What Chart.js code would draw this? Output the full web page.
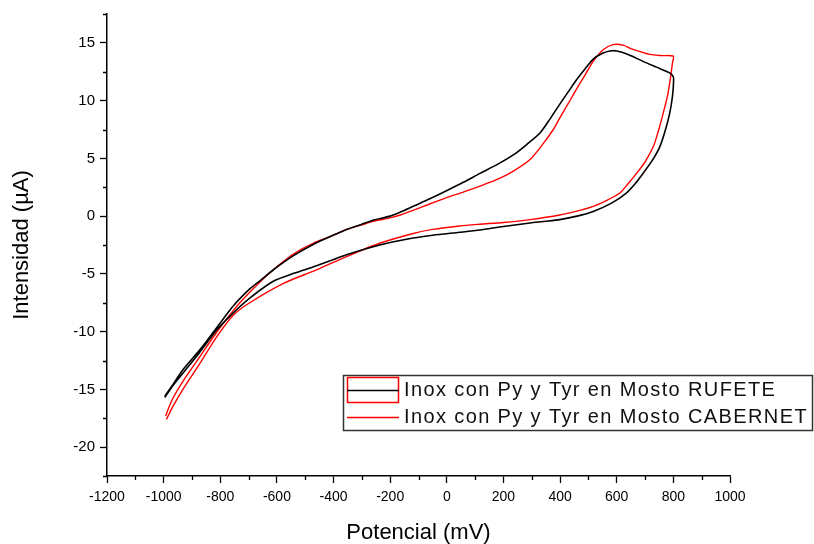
<!DOCTYPE html>
<html>
<head>
<meta charset="utf-8">
<script src="https://cdn.jsdelivr.net/npm/chart.js@4.4.1/dist/chart.umd.min.js"></script>
<style>
  html, body { margin: 0; padding: 0; background: #fff; }
  #wrap { width: 814px; height: 544px; }
</style>
</head>
<body>
<div id="wrap"><canvas id="cv" width="814" height="544"></canvas></div>
<script>
// Axis tick labels
const potencialTicks = [-1200, -1000, -800, -600, -400, -200, 0, 200, 400, 600, 800, 1000];
const intensidadTicks = [-20, -15, -10, -5, 0, 5, 10, 15];

// Series labels
const serieNombres = ['Inox con Py y Tyr en Mosto RUFETE', 'Inox con Py y Tyr en Mosto CABERNET'];

// RUFETE voltammogram: anodic sweep (-1000 -> 800 mV) then cathodic return
const rufetePotencial = [
  -996, -965, -932, -873, -814, -755, -696, -660, -610, -540, -472, -410, -354, -300, -260, -200, -164, -119, -60, -1,
  60, 117, 180, 235, 282, 329, 364, 399, 430, 458, 490, 517, 550, 576, 600, 640, 693, 740, 787, 799,
  801, 797, 787, 770, 752, 725, 693, 665, 634, 580, 517, 460, 399, 350, 294, 200, 117, 45, -50, -119,
  -237, -354, -460, -540, -610, -696, -755, -814, -873, -932, -965, -996
];
const rufeteIntensidad = [
  -15.6, -14.5, -13.3, -11.6, -9.7, -7.8, -6.3, -5.6, -4.6, -3.4, -2.45, -1.75, -1.15, -0.7, -0.35, 0.0, 0.35, 0.85, 1.5, 2.2,
  2.95, 3.7, 4.5, 5.3, 6.2, 7.2, 8.4, 9.7, 10.8, 11.8, 12.8, 13.6, 14.1, 14.3, 14.3, 14.0, 13.4, 12.9, 12.4, 12.1,
  11.8, 10.4, 8.9, 7.3, 6.0, 4.8, 3.7, 2.8, 2.0, 1.1, 0.4, 0.0, -0.3, -0.45, -0.6, -0.9, -1.2, -1.4, -1.65, -1.9,
  -2.5, -3.35, -4.3, -4.95, -5.6, -7.1, -8.4, -9.9, -11.8, -13.6, -14.6, -15.7
];

// CABERNET voltammogram: anodic sweep then cathodic return
const cabernetPotencial = [
  -993, -970, -932, -873, -814, -755, -696, -625, -560, -508, -472, -410, -354, -300, -260, -200, -164, -119, -60, -1,
  60, 117, 180, 235, 294, 341, 376, 399, 430, 458, 490, 517, 552, 587, 623, 650, 717, 760, 800,
  797, 790, 780, 764, 745, 729, 700, 670, 640, 611, 560, 517, 470, 399, 294, 200, 117, 45, -50, -119,
  -237, -354, -460, -575, -696, -755, -814, -873, -932, -970, -990
];
const cabernetIntensidad = [
  -17.3, -15.9, -14.3, -12.2, -10.1, -8.2, -6.6, -4.9, -3.6, -2.8, -2.35, -1.75, -1.15, -0.75, -0.45, -0.15, 0.1, 0.5, 1.05, 1.6,
  2.1, 2.6, 3.2, 3.9, 4.9, 6.3, 7.5, 8.5, 9.8, 11.0, 12.3, 13.4, 14.4, 14.85, 14.8, 14.5, 14.0, 13.9, 13.85,
  13.3, 12.0, 10.5, 8.9, 7.2, 6.0, 4.7, 3.7, 2.8, 2.0, 1.3, 0.84, 0.5, 0.1, -0.3, -0.55, -0.7, -0.85, -1.15, -1.5,
  -2.35, -3.5, -4.65, -5.8, -7.5, -8.6, -10.5, -12.8, -15.0, -16.6, -17.6
];

const toPoints = (xs, ys) => xs.map((x, i) => ({ x: x, y: ys[i] }));

const FONT = '"Liberation Sans", Arial, sans-serif';

// Short minor ticks halfway between the labelled ticks
function minorValues(major) {
  const step = major[1] - major[0];
  const out = [];
  for (let i = 0; i < major.length - 1; i++) out.push((major[i] + major[i + 1]) / 2);
  out.unshift(major[0] - step / 2);
  out.push(major[major.length - 1] + step / 2);
  return out;
}

const minorTicksPlugin = {
  id: 'minorTicks',
  afterDraw(chart) {
    const ctx = chart.ctx;
    const xs = chart.scales.x, ys = chart.scales.y;
    ctx.save();
    ctx.strokeStyle = '#000';
    ctx.lineWidth = 1.3;
    ctx.beginPath();
    minorValues(potencialTicks).forEach(v => {
      if (v < xs.min || v > xs.max) return;
      const px = Math.round(xs.getPixelForValue(v)) + 0.5;
      ctx.moveTo(px, xs.top);
      ctx.lineTo(px, xs.top + 4);
    });
    minorValues(intensidadTicks).forEach(v => {
      if (v < ys.min || v > ys.max) return;
      const py = Math.round(ys.getPixelForValue(v)) + 0.5;
      ctx.moveTo(ys.right, py);
      ctx.lineTo(ys.right - 4, py);
    });
    ctx.stroke();
    ctx.restore();
  }
};

// Boxed legend inside the plot, lower right
const boxLegendPlugin = {
  id: 'boxLegend',
  afterDraw(chart) {
    const ctx = chart.ctx;
    const ds = chart.data.datasets;
    ctx.save();
    const bx = 343.5, by = 375.5, bw = 469, bh = 55;
    ctx.fillStyle = '#fff';
    ctx.fillRect(bx, by, bw, bh);
    ctx.strokeStyle = '#333';
    ctx.lineWidth = 1.5;
    ctx.strokeRect(bx, by, bw, bh);

    // first entry: sample line framed by a red box
    ctx.strokeStyle = '#ff0000';
    ctx.lineWidth = 1.5;
    ctx.strokeRect(347.5, 377.5, 51, 25);
    ctx.strokeStyle = ds[0].borderColor;
    ctx.lineWidth = 1.6;
    ctx.beginPath();
    ctx.moveTo(347, 390.5);
    ctx.lineTo(399, 390.5);
    ctx.stroke();

    // second entry
    ctx.strokeStyle = ds[1].borderColor;
    ctx.beginPath();
    ctx.moveTo(347, 417.5);
    ctx.lineTo(399, 417.5);
    ctx.stroke();

    // labels, spaced out so the longer one spans 404 px
    ctx.fillStyle = '#111';
    ctx.font = '20px ' + FONT;
    ctx.textBaseline = 'middle';
    ctx.textAlign = 'left';
    let spacing = 0;
    if ('letterSpacing' in ctx) {
      ctx.letterSpacing = '0px';
      const w = ctx.measureText(ds[1].label).width;
      spacing = Math.max(0, (404 - w) / ds[1].label.length);
      ctx.letterSpacing = spacing.toFixed(2) + 'px';
    }
    ctx.fillText(ds[0].label, 404, 390);
    ctx.fillText(ds[1].label, 404, 417);
    ctx.restore();
  }
};

const plainLabel = v => String(v);

new Chart(document.getElementById('cv'), {
  type: 'scatter',
  data: {
    datasets: [
      {
        label: serieNombres[0],
        data: toPoints(rufetePotencial, rufeteIntensidad),
        showLine: true,
        borderColor: '#000000',
        borderWidth: 1.6,
        pointRadius: 0,
        tension: 0.25,
        fill: false
      },
      {
        label: serieNombres[1],
        data: toPoints(cabernetPotencial, cabernetIntensidad),
        showLine: true,
        borderColor: '#ff0000',
        borderWidth: 1.4,
        pointRadius: 0,
        tension: 0.25,
        fill: false
      }
    ]
  },
  options: {
    responsive: false,
    animation: false,
    devicePixelRatio: 1,
    layout: { padding: { top: 14, right: 84, left: 0, bottom: 0 } },
    plugins: {
      legend: { display: false },
      tooltip: { enabled: false }
    },
    scales: {
      x: {
        type: 'linear',
        min: -1200,
        max: 1000,
        afterBuildTicks(scale) { scale.ticks = potencialTicks.map(v => ({ value: v })); },
        afterFit(scale) { scale.height = 68; },
        grid: { drawOnChartArea: false, drawTicks: true, tickLength: 7, tickWidth: 1.3, tickColor: '#000' },
        border: { display: true, color: '#000', width: 1.5 },
        ticks: { color: '#000', font: { family: FONT, size: 14 }, padding: 6, maxRotation: 0, autoSkip: false, callback: plainLabel },
        title: { display: true, text: 'Potencial (mV)', color: '#000', font: { family: FONT, size: 22, lineHeight: 1 }, padding: { top: 0, bottom: 0 } }
      },
      y: {
        type: 'linear',
        min: -22.5,
        max: 17.5,
        afterBuildTicks(scale) { scale.ticks = intensidadTicks.map(v => ({ value: v })); },
        afterFit(scale) { scale.width = 107; },
        grid: { drawOnChartArea: false, drawTicks: true, tickLength: 7, tickWidth: 1.3, tickColor: '#000' },
        border: { display: true, color: '#000', width: 1.5 },
        ticks: { color: '#000', font: { family: FONT, size: 15 }, padding: 5, autoSkip: false, callback: plainLabel },
        title: { display: true, text: 'Intensidad (µA)', color: '#000', font: { family: FONT, size: 22, lineHeight: 1 }, padding: { top: 11, bottom: 0 } }
      }
    }
  },
  plugins: [minorTicksPlugin, boxLegendPlugin]
});
</script>
</body>
</html>
